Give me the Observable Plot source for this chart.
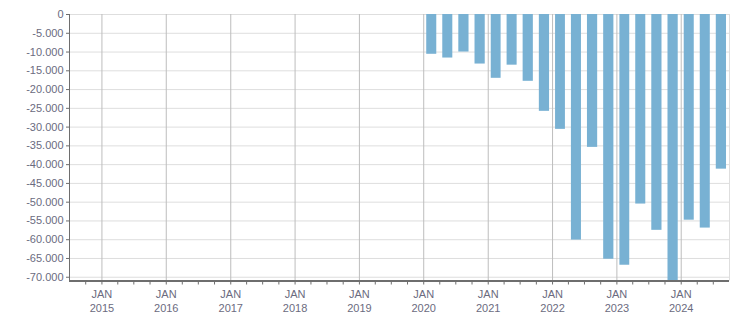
<!DOCTYPE html>
<html><head><meta charset="utf-8">
<script src="https://cdn.jsdelivr.net/npm/d3@7"></script>
<script src="https://cdn.jsdelivr.net/npm/@observablehq/plot@0.6"></script>
<style>body{margin:0;background:#fff} svg{display:block}</style>
</head><body><div id="chart"></div>
<script>
// Quarterly values (start of quarter)
const quarterStarts = [
  "2020-01-01","2020-04-01","2020-07-01","2020-10-01",
  "2021-01-01","2021-04-01","2021-07-01","2021-10-01",
  "2022-01-01","2022-04-01","2022-07-01","2022-10-01",
  "2023-01-01","2023-04-01","2023-07-01","2023-10-01",
  "2024-01-01","2024-04-01","2024-07-01"
];
const values = [
  -10600, -11600, -10000, -13200,
  -17000, -13500, -17800, -25800,
  -30600, -60100, -35400, -65200,
  -66800, -50500, -57500, -71000,
  -54800, -56900, -41200
];
const yTicks = [0,-5000,-10000,-15000,-20000,-25000,-30000,-35000,-40000,-45000,-50000,-55000,-60000,-65000,-70000];
const xYears = [2015,2016,2017,2018,2019,2020,2021,2022,2023,2024];
const xMonthLabel = "JAN";
const xDomain = ["2014-07-01","2024-10-01"];
const yDomain = [-71000, 0];

const data = quarterStarts.map((q, i) => {
  const s = new Date(q + "T00:00:00Z");
  return {start: s, end: d3.utcMonth.offset(s, 3), value: values[i]};
});
const janDates = xYears.map(y => new Date(Date.UTC(y, 0, 1)));
const dStart = new Date(xDomain[0] + "T00:00:00Z");
const dEnd = new Date(xDomain[1] + "T00:00:00Z");
const quarterTicks = d3.utcMonth.every(3).range(d3.utcMonth.offset(dStart, 3), dEnd);

const de = d3.formatLocale({decimal: ",", thousands: ".", grouping: [3], currency: ["", " €"], minus: "-"});
const fmt = de.format(",d");

const labelColor = "#6b6b80";
const axisColor = "#6e6e6e";

const chart = Plot.plot({
  width: 751,
  height: 313,
  marginLeft: 69,
  marginRight: 22,
  marginTop: 14,
  marginBottom: 32.5,
  style: {fontFamily: "'Liberation Sans', Arial, sans-serif", fontSize: "11px", background: "#fff"},
  x: {type: "utc", domain: [dStart, dEnd]},
  y: {domain: yDomain},
  marks: [
    Plot.gridY(yTicks, {stroke: "#dedede", strokeOpacity: 1}),
    Plot.gridX(janDates, {stroke: "#bdbdbd", strokeOpacity: 1}),
    Plot.ruleX([dEnd], {stroke: "#dedede"}),
    Plot.rectY(data, {x1: "start", x2: "end", y1: 0, y2: "value", fill: "#78b1d3", insetLeft: 3, insetRight: 3}),
    Plot.ruleX([dStart], {stroke: axisColor, strokeWidth: 1}),
    Plot.ruleY([yDomain[0]], {stroke: axisColor, strokeWidth: 2}),
    Plot.axisY(yTicks, {tickSize: 3, tickPadding: 3, tickFormat: fmt, stroke: axisColor, fill: labelColor, label: null}),
    Plot.axisX(quarterTicks, {tickSize: 4, tickFormat: () => "", stroke: axisColor, label: null}),
    Plot.axisX(janDates, {tickSize: 0, tickPadding: 8, lineHeight: 1.2, tickFormat: d => xMonthLabel + "\n" + d.getUTCFullYear(), fill: labelColor, label: null})
  ]
});
document.getElementById("chart").appendChild(chart);
</script>
</body></html>
